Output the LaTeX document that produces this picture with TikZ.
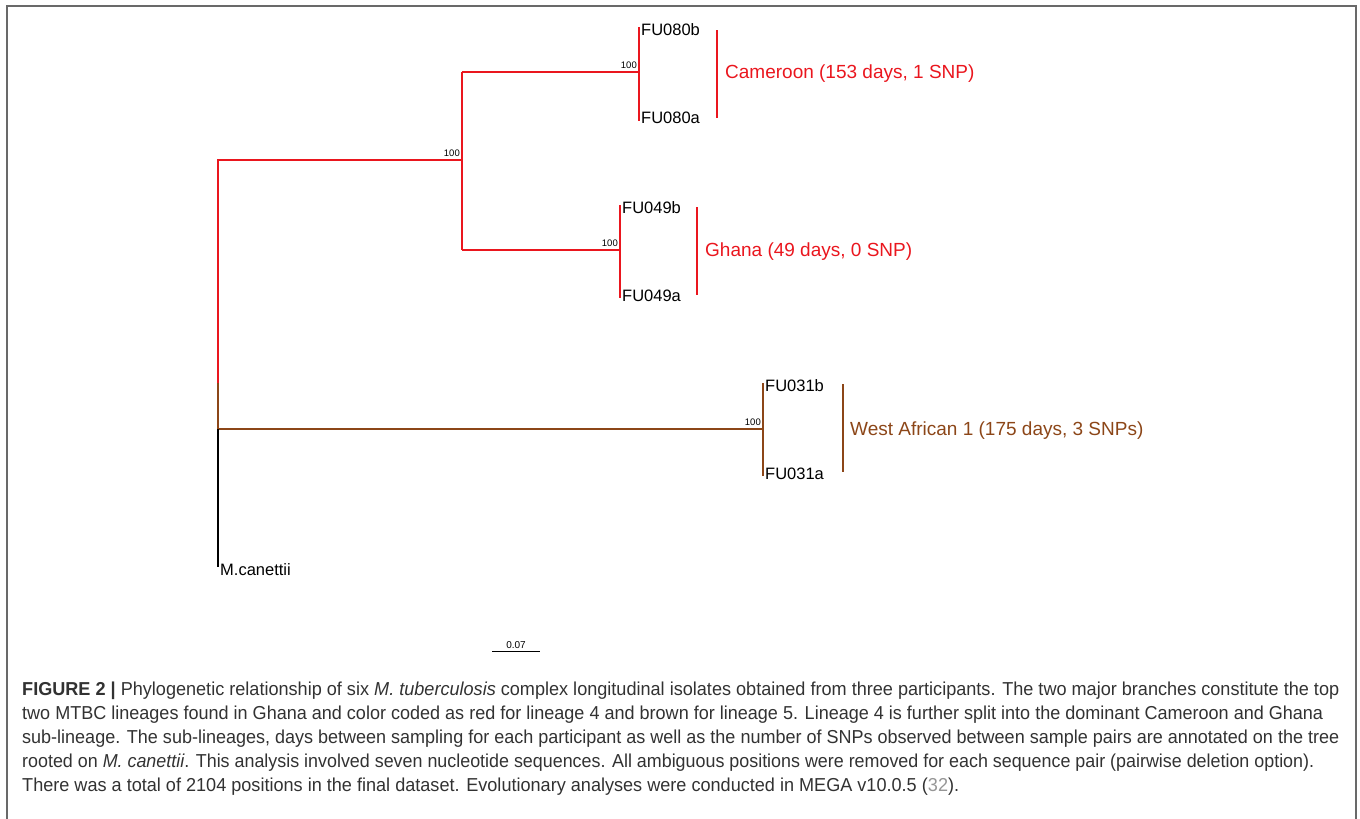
\documentclass[tikz,border=0pt]{standalone}
\usepackage{fontspec}
\setmainfont{Liberation Sans}
\usepackage{graphicx}
\definecolor{treered}{RGB}{234,22,30}
\definecolor{treebrown}{RGB}{140,70,24}
\definecolor{captext}{RGB}{50,50,50}
\definecolor{refgray}{RGB}{150,150,150}
\definecolor{framegray}{RGB}{105,105,105}
\newlength\capw
\newcommand\capfont{\fontsize{17.5}{17.5}\selectfont}
\newcommand\capfirst{\textbf{FIGURE 2 |} Phylogenetic relationship of six \textit{M. tuberculosis} complex longitudinal isolates obtained from three participants. The two major branches constitute the top}
\newcommand\capfix[2]{\resizebox{#1pt}{1.07\height}{\capfont #2}}
\tikzset{
  branch/.style={line width=1.7pt},
  redbr/.style={branch, draw=treered},
  brownbr/.style={branch, draw=treebrown},
  blackbr/.style={branch, draw=black},
  cladebar/.style={line width=2.6pt},
  leaf/.style={anchor=west, inner sep=1pt, font=\fontsize{16.5}{16.5}\selectfont, text=black},
  boot/.style={anchor=south east, inner sep=1pt, font=\fontsize{9.5}{10}\selectfont, text=black},
  cladelab/.style={anchor=west, inner sep=0pt, font=\fontsize{19}{19}\selectfont},
  capline/.style={anchor=base west, inner sep=0pt, text=captext},
}
\begin{document}
\settowidth{\capw}{\capfont\capfirst}%
\pgfmathsetmacro\capscale{1317/\capw}%
\begin{tikzpicture}[x=1pt,y=-1pt]
\useasboundingbox (0,0) rectangle (1360,819);
% frame
\coordinate (fbl) at (7,819);
\coordinate (ftl) at (7,6);
\coordinate (ftr) at (1356,6);
\coordinate (fbr) at (1356,819);
\draw[framegray, line width=2pt] (fbl) -- (ftl) -- (ftr) -- (fbr);

% tree coordinates
\coordinate (r1) at (218,160);
\coordinate (r2) at (218,383);
\coordinate (r3) at (218,429);
\coordinate (r4) at (218,567);
\coordinate (a0) at (462,160);
\coordinate (a1) at (462,72);
\coordinate (a2) at (462,250);
\coordinate (c0) at (639,72);
\coordinate (c1) at (639,27);
\coordinate (c2) at (639,121);
\coordinate (g0) at (620,250);
\coordinate (g1) at (620,205);
\coordinate (g2) at (620,298);
\coordinate (w0) at (763,429);
\coordinate (w1) at (763,383);
\coordinate (w2) at (763,476);

% branches
\draw[redbr] (r2) -- (r1) -- (a0);
\draw[redbr] (a1) -- (a2);
\draw[redbr] (a1) -- (c0);
\draw[redbr] (c1) -- (c2);
\draw[redbr] (a2) -- (g0);
\draw[redbr] (g1) -- (g2);
\draw[brownbr] (r2) -- (r3) -- (w0);
\draw[brownbr] (w1) -- (w2);
\draw[blackbr] (r3) -- (r4);

% bootstrap values
\node[boot] (b0) at (461,158) {100};
\node[boot] (b1) at (638,70) {100};
\node[boot] (b2) at (619,248) {100};
\node[boot] (b3) at (762,427) {100};

% leaves
\node[leaf] (fu080b) at (640,30) {FU080b};
\node[leaf] (fu080a) at (640,118) {FU080a};
\node[leaf] (fu049b) at (621,208) {FU049b};
\node[leaf] (fu049a) at (621,296) {FU049a};
\node[leaf] (fu031b) at (764,386) {FU031b};
\node[leaf] (fu031a) at (764,474) {FU031a};
\node[leaf] (canet) at (219,570) {M.canettii};

% clade bars and labels
\coordinate (cb1) at (717,30);
\coordinate (cb2) at (717,118);
\coordinate (gb1) at (697,207);
\coordinate (gb2) at (697,295);
\coordinate (wb1) at (843,384);
\coordinate (wb2) at (843,472);
\draw[cladebar, treered] (cb1) -- (cb2);
\draw[cladebar, treered] (gb1) -- (gb2);
\draw[cladebar, treebrown] (wb1) -- (wb2);
\node[cladelab, text=treered] (cam) at (725,74) {Cameroon (153 days, 1 SNP)};
\node[cladelab, text=treered] (gha) at (705,252) {Ghana (49 days, 0 SNP)};
\node[cladelab, text=treebrown] (wa) at (850,431) {West African 1 (175 days, 3 SNPs)};

% scale bar
\coordinate (s1) at (492,651);
\coordinate (s2) at (540,651);
\draw[black, line width=0.8pt] (s1) -- (s2) node[midway, above=1pt, inner sep=1pt, font=\fontsize{10}{10}\selectfont] (sl) {0.07};

% caption
\node[capline] (cap1) at (22,695) {\capfix{1317}{\capfirst}};
\node[capline] (cap2) at (22,719) {\capfix{1301}{two MTBC lineages found in Ghana and color coded as red for lineage 4 and brown for lineage 5. Lineage 4 is further split into the dominant Cameroon and Ghana}};
\node[capline] (cap3) at (22,743) {\capfix{1317}{sub-lineage. The sub-lineages, days between sampling for each participant as well as the number of SNPs observed between sample pairs are annotated on the tree}};
\node[capline] (cap4) at (22,767) {\capfix{1292}{rooted on \textit{M. canettii}. This analysis involved seven nucleotide sequences. All ambiguous positions were removed for each sequence pair (pairwise deletion option).}};
\node[capline] (cap5) at (22,791) {\resizebox{\capscale\width}{1.07\height}{\capfont There was a total of 2104 positions in the final dataset. Evolutionary analyses were conducted in MEGA v10.0.5 ({\color{refgray}32}).}};
\end{tikzpicture}
\end{document}
